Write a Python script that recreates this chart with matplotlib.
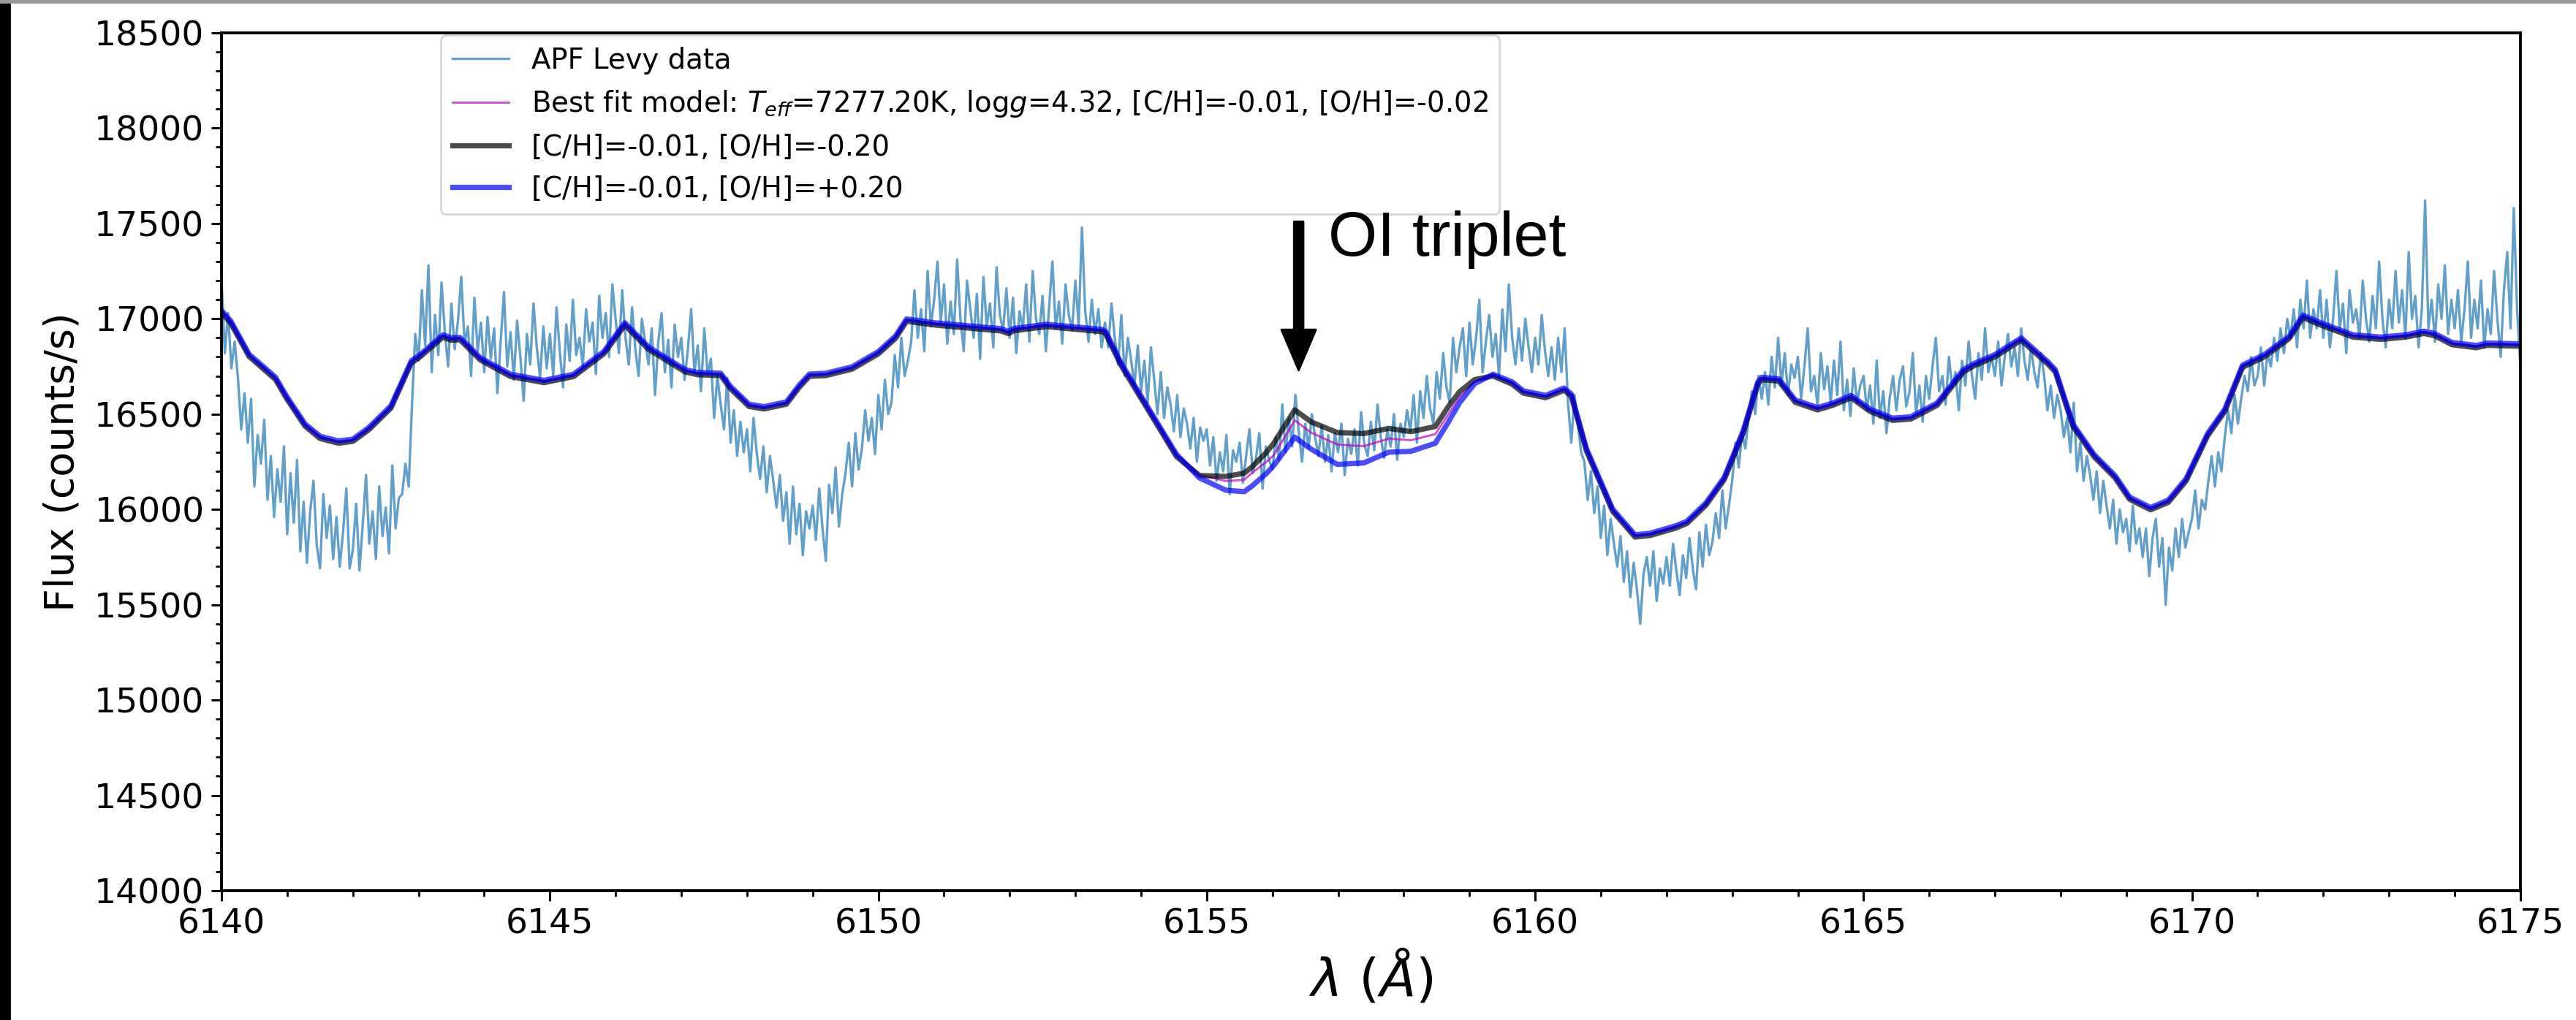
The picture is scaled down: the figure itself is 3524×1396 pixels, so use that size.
import numpy as np
import matplotlib
matplotlib.use('Agg')
import matplotlib.pyplot as plt
from matplotlib.ticker import MultipleLocator
from matplotlib.patches import Rectangle

# observed spectrum (counts/s), one row per Angstrom, sampled every 0.05 A from 6140 to 6175
apf_flux = [
    17210, 16820, 17030, 16740, 16880, 16690, 16420, 16610, 16350, 16580, 16120, 16390, 16240, 16470, 16050, 16280, 15960, 16210, 16040, 16330,
    15870, 16190, 15930, 16260, 15780, 16040, 15720, 15990, 16150, 15810, 15690, 16080, 15850, 16020, 15740, 15960, 15700, 15880, 16110, 15690,
    15790, 16030, 15680, 15920, 16180, 15820, 15990, 15740, 16120, 15860, 16010, 15770, 16230, 15900, 16060, 16080, 16240, 16120, 16550, 16920,
    16780, 17150, 16860, 17280, 16720, 17020, 16810, 17190, 16930, 16750, 17080, 16840, 16990, 17220, 16870, 16960, 16700, 17110, 16830, 16980,
    16720, 17010, 16790, 16950, 16610, 16880, 17140, 16750, 16930, 16680, 16990, 16800, 16570, 16920, 16760, 17080, 16850, 16690, 16960, 16740,
    16920, 16700, 17060, 16830, 16640, 16970, 16780, 17100, 16810, 16900, 16750, 17050, 16880, 16980, 16710, 17120, 16900, 17030, 16800, 17180,
    17000, 16820, 17150, 16900, 16760, 17060, 16840, 16700, 17000, 16880, 16760, 16950, 16600, 16880, 17030, 16720, 16890, 16640, 16970, 16800,
    16900, 16680, 16840, 17050, 16720, 16860, 16620, 16950, 16710, 16790, 16480, 16700, 16550, 16420, 16690, 16350, 16520, 16280, 16460, 16300,
    16420, 16200, 16480, 16290, 16160, 16330, 16090, 16280, 16150, 16010, 16180, 15940, 16090, 15820, 16120, 15870, 16030, 15760, 15990, 15900,
    16020, 15840, 16110, 15900, 15730, 16130, 15980, 16220, 15910, 16080, 16190, 16350, 16120, 16400, 16210, 16320, 16520, 16360, 16480, 16290,
    16600, 16420, 16680, 16500, 16560, 16810, 16640, 16900, 16700, 16780, 16880, 17150, 16900, 17050, 16830, 17250, 16960, 17100, 17300, 16980,
    17180, 16870, 17090, 16920, 17310, 17000, 16830, 17200, 17050, 16900, 17130, 16790, 17220, 16960, 17080, 16850, 17270, 17020, 16940, 17160,
    16900, 17110, 16820, 17040, 16950, 17180, 16880, 17250, 17000, 16920, 17120, 16830, 17060, 17300, 16950, 17090, 16870, 17180, 17020, 16940,
    17200, 16960, 17480, 17040, 16880, 17100, 16920, 17050, 16850, 16980, 16850, 17080, 16900, 16760, 17020, 16700, 16900, 16780, 16650, 16860,
    16620, 16780, 16560, 16850, 16680, 16500, 16720, 16480, 16640, 16550, 16410, 16600, 16380, 16530, 16450, 16320, 16480, 16250, 16430, 16360,
    16420, 16230, 16380, 16150, 16300, 16200, 16390, 16080, 16310, 16250, 16350, 16140, 16280, 16420, 16190, 16270, 16400, 16110, 16330, 16260,
    16210, 16380, 16260, 16550, 16300, 16480, 16330, 16600, 16410, 16250, 16450, 16320, 16500, 16380, 16280, 16440, 16250, 16390, 16200, 16400,
    16300, 16450, 16180, 16370, 16290, 16420, 16230, 16510, 16340, 16280, 16460, 16310, 16550, 16380, 16270, 16420, 16330, 16500, 16260, 16450,
    16380, 16520, 16410, 16600, 16350, 16620, 16480, 16700, 16530, 16450, 16720, 16580, 16820, 16640, 16560, 16900, 16720, 16850, 16950, 16700,
    16980, 16760, 16900, 17100, 16720, 16880, 17020, 16800, 16920, 16700, 17050, 16830, 17180, 16900, 16760, 16950, 16780, 17000, 16850, 16720,
    16900, 16760, 17020, 16830, 16700, 16850, 16680, 16900, 16720, 16950, 16560, 16350, 16600, 16450, 16300, 16250, 16050, 16200, 15980, 16120,
    15850, 16020, 15760, 15950, 15820, 15700, 15860, 15620, 15780, 15540, 15720, 15580, 15400, 15660, 15750, 15600, 15780, 15520, 15690, 15610,
    15750, 15600, 15820, 15680, 15550, 15760, 15640, 15850, 15690, 15580, 15880, 15700, 15920, 15760, 15830, 15980, 15850, 16100, 15900, 16020,
    16150, 16350, 16220, 16400, 16320, 16480, 16620, 16500, 16700, 16580, 16720, 16550, 16800, 16640, 16900, 16650, 16820, 16600, 16760, 16690,
    16800, 16580, 16750, 16950, 16620, 16700, 16540, 16820, 16630, 16750, 16560, 16780, 16600, 16880, 16520, 16680, 16490, 16740, 16560, 16650,
    16700, 16520, 16650, 16450, 16780, 16480, 16620, 16400, 16590, 16700, 16520, 16680, 16750, 16540, 16620, 16820, 16500, 16650, 16460, 16700,
    16580, 16750, 16900, 16620, 16700, 16550, 16800, 16640, 16720, 16520, 16780, 16650, 16880, 16700, 16580, 16820, 16680, 16950, 16720, 16800,
    16700, 16880, 16650, 16800, 16920, 16750, 16850, 16700, 16950, 16780, 16680, 16850, 16720, 16640, 16820, 16700, 16520, 16650, 16480, 16600,
    16520, 16380, 16480, 16300, 16560, 16200, 16350, 16150, 16280, 16180, 16050, 16200, 15980, 16150, 16020, 15900, 16050, 15820, 16000, 15880,
    15950, 15780, 16020, 15820, 15900, 15750, 15900, 15650, 15850, 15950, 15700, 15850, 15500, 15800, 15680, 15900, 15750, 15950, 15800, 15880,
    15950, 16100, 15900, 16050, 16000, 16150, 16280, 16120, 16300, 16200, 16380, 16520, 16400, 16600, 16450, 16580, 16700, 16620, 16800, 16650,
    16700, 16850, 16650, 16820, 16750, 16900, 16780, 16950, 16820, 17000, 16900, 17050, 16850, 17100, 16950, 17200, 16900, 17050, 16950, 17150,
    16900, 17100, 16850, 17000, 17250, 16950, 17080, 16820, 17150, 16980, 17050, 16900, 17200, 17000, 16880, 17120, 16950, 17300, 17000, 16850,
    17100, 16950, 17250, 16980, 17150, 16900, 17350, 17000, 17120, 16850, 17050, 17620, 16950, 17100, 16880, 17180, 17000, 17280, 16920, 17100,
    16950, 17150, 16880, 17050, 17300, 16900, 17100, 16950, 17200, 16850, 17050, 16920, 17250, 17000, 16800, 17150, 17350, 16950, 17580, 17050,
    16750,
]
apf_wave = np.linspace(6140.0, 6175.0, len(apf_flux))

# synthetic model grid
model_wave = [
    6140.00, 6140.14, 6140.42, 6140.82, 6140.99, 6141.27, 6141.50, 6141.78, 6142.00, 6142.24,
    6142.58, 6142.89, 6143.03, 6143.37, 6143.49, 6143.63, 6143.94, 6144.40, 6144.91, 6145.36,
    6145.82, 6146.14, 6146.50, 6147.06, 6147.24, 6147.60, 6147.75, 6148.03, 6148.26, 6148.60,
    6148.80, 6148.95, 6149.20, 6149.60, 6150.00, 6150.26, 6150.43, 6150.86, 6151.87, 6151.98,
    6152.06, 6152.56, 6153.41, 6153.46, 6153.70, 6153.98, 6154.54, 6154.89, 6155.29, 6155.57,
    6155.68, 6155.91, 6156.02, 6156.34, 6156.59, 6156.99, 6157.39, 6157.77, 6158.11, 6158.48,
    6158.68, 6158.85, 6159.08, 6159.36, 6159.65, 6159.82, 6160.16, 6160.44, 6160.55, 6160.78,
    6161.18, 6161.52, 6161.75, 6162.14, 6162.31, 6162.60, 6162.88, 6163.17, 6163.39, 6163.45,
    6163.71, 6163.96, 6164.30, 6164.53, 6164.81, 6165.10, 6165.44, 6165.72, 6166.12, 6166.52,
    6166.68, 6167.00, 6167.40, 6167.81, 6167.92, 6168.19, 6168.51, 6168.83, 6169.05, 6169.37,
    6169.64, 6169.91, 6170.24, 6170.50, 6170.77, 6171.10, 6171.48, 6171.69, 6171.96, 6172.45,
    6172.88, 6173.26, 6173.53, 6173.69, 6173.96, 6174.33, 6174.50, 6175.00,
]
best_fit = [
    17040, 16985, 16810, 16690, 16590, 16445, 16380, 16355, 16365, 16425,
    16540, 16776, 16810, 16912, 16896, 16898, 16792, 16705, 16673, 16705,
    16824, 16975, 16848, 16729, 16715, 16710, 16641, 16548, 16535, 16560,
    16650, 16706, 16710, 16744, 16824, 16905, 16995, 16975, 16944, 16930,
    16945, 16967, 16940, 16930, 16761, 16602, 16285, 16181, 16149, 16155,
    16189, 16250, 16284, 16467, 16403, 16340, 16332, 16371, 16363, 16395,
    16500, 16590, 16670, 16705, 16665, 16618, 16594, 16633, 16602, 16316,
    15998, 15863, 15871, 15910, 15934, 16030, 16165, 16411, 16665, 16689,
    16681, 16570, 16530, 16554, 16594, 16522, 16475, 16482, 16554, 16729,
    16761, 16808, 16896, 16769, 16729, 16443, 16284, 16173, 16061, 16006,
    16045, 16157, 16395, 16522, 16753, 16808, 16904, 17015, 16975, 16912,
    16900, 16912, 16931, 16920, 16872, 16856, 16869, 16864,
]
o_minus = [
    17032, 16977, 16802, 16682, 16582, 16437, 16372, 16347, 16357, 16417,
    16532, 16768, 16802, 16904, 16888, 16890, 16784, 16697, 16665, 16697,
    16816, 16967, 16840, 16721, 16707, 16702, 16633, 16540, 16527, 16552,
    16642, 16698, 16702, 16736, 16816, 16897, 16987, 16967, 16936, 16922,
    16937, 16959, 16932, 16922, 16753, 16594, 16277, 16178, 16173, 16190,
    16220, 16300, 16347, 16522, 16459, 16403, 16398, 16425, 16408, 16435,
    16540, 16618, 16681, 16700, 16657, 16610, 16586, 16625, 16594, 16308,
    15990, 15855, 15863, 15902, 15926, 16022, 16157, 16403, 16657, 16681,
    16673, 16562, 16522, 16546, 16586, 16514, 16467, 16474, 16546, 16721,
    16753, 16800, 16888, 16761, 16721, 16435, 16276, 16165, 16053, 15998,
    16037, 16149, 16387, 16514, 16745, 16800, 16896, 17007, 16967, 16904,
    16892, 16904, 16923, 16912, 16864, 16848, 16861, 16856,
]
o_plus = [
    17044, 16989, 16814, 16694, 16594, 16449, 16384, 16359, 16369, 16429,
    16544, 16780, 16814, 16916, 16900, 16902, 16796, 16709, 16677, 16709,
    16828, 16979, 16852, 16733, 16719, 16714, 16645, 16552, 16539, 16564,
    16654, 16710, 16714, 16748, 16828, 16909, 16999, 16979, 16948, 16934,
    16949, 16971, 16944, 16934, 16765, 16606, 16289, 16165, 16101, 16093,
    16120, 16189, 16230, 16379, 16316, 16236, 16244, 16300, 16305, 16347,
    16459, 16560, 16660, 16709, 16669, 16622, 16598, 16637, 16606, 16320,
    16002, 15867, 15875, 15914, 15938, 16034, 16169, 16415, 16669, 16693,
    16685, 16574, 16534, 16558, 16598, 16526, 16479, 16486, 16558, 16733,
    16765, 16812, 16900, 16773, 16733, 16447, 16288, 16177, 16065, 16010,
    16049, 16161, 16399, 16526, 16757, 16812, 16908, 17019, 16979, 16916,
    16904, 16916, 16935, 16924, 16876, 16860, 16873, 16868,
]

fig = plt.figure(figsize=(17.62, 6.98), dpi=200)
ax = fig.add_axes([0.086, 0.1268, 0.8924, 0.8410])

ax.plot(apf_wave, apf_flux, color='C0', alpha=0.7, lw=1.2, label='APF Levy data')
ax.plot(model_wave, best_fit, color='m', alpha=0.7, lw=1.0,
        label=r'Best fit model: $T_{eff}$=7277.20K, log$g$=4.32, [C/H]=-0.01, [O/H]=-0.02')
ax.plot(model_wave, o_minus, color='k', alpha=0.7, lw=2.6, label='[C/H]=-0.01, [O/H]=-0.20')
ax.plot(model_wave, o_plus, color='b', alpha=0.7, lw=2.6, label='[C/H]=-0.01, [O/H]=+0.20')

# OI triplet marker
ax.annotate('', xy=(6156.4, 16730), xytext=(6156.4, 17510),
            arrowprops=dict(facecolor='black', edgecolor='black', width=4.6,
                            headwidth=17, headlength=20, shrink=0))
ax.text(6156.85, 17330, 'OI triplet', fontsize=31, family='Liberation Sans', zorder=10)

ax.set_xlim(6140, 6175)
ax.set_ylim(14000, 18500)
ax.xaxis.set_major_locator(MultipleLocator(5))
ax.xaxis.set_minor_locator(MultipleLocator(1))
ax.yaxis.set_major_locator(MultipleLocator(500))
ax.yaxis.set_minor_locator(MultipleLocator(100))
ax.tick_params(which='major', length=5, width=1.1, labelsize=17)
ax.tick_params(which='minor', length=3, width=1.0)
for sp in ax.spines.values():
    sp.set_linewidth(1.4)

ax.set_xlabel(r'$\lambda$ $(\AA)$', fontsize=26, labelpad=4)
ax.set_ylabel('Flux (counts/s)', fontsize=20, labelpad=6)

ax.legend(loc='upper left', bbox_to_anchor=(0.0955, 0.997), borderaxespad=0,
          fontsize=13.9, handlelength=2.0)

# screenshot edges
fig.add_artist(Rectangle((0, 0), 13 / 3524, 1, transform=fig.transFigure,
                         color='black', zorder=10))
fig.add_artist(Rectangle((0, 1 - 3 / 1396), 1, 3 / 1396, transform=fig.transFigure,
                         color='#999999', zorder=10))

fig.savefig('out.png', dpi=200)
